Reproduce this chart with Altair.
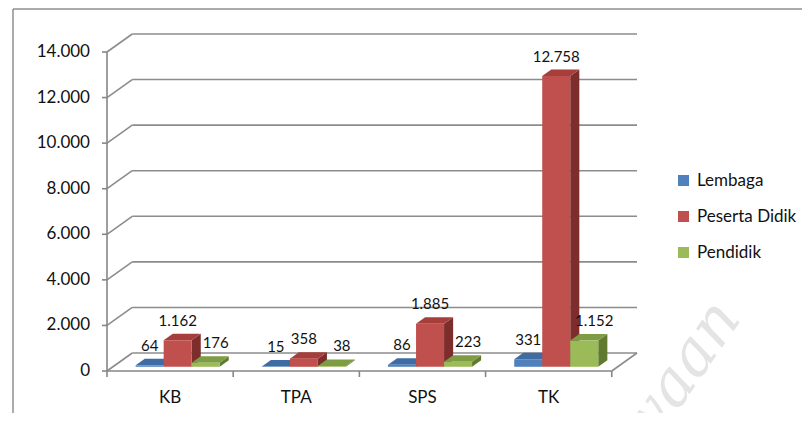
import altair as alt
import pandas as pd

# ---- data ----
categories = ["KB", "TPA", "SPS", "TK"]
series = ["Lembaga", "Peserta Didik", "Pendidik"]
lembaga = [64, 15, 86, 331]
peserta_didik = [1162, 358, 1885, 12758]
pendidik = [176, 38, 223, 1152]
y_ticks = [0, 2000, 4000, 6000, 8000, 10000, 12000, 14000]

values = [lembaga, peserta_didik, pendidik]

# ---- styling / 3D geometry ----
front_colors = ["#4F81BD", "#C0504D", "#9BBB59"]
top_colors = ["#3F6DA3", "#A63E3B", "#7E9C43"]
side_colors = ["#2F5482", "#7D2E2C", "#617A30"]
label_dx = [0, 0, 10]

DX, DY = 0.2, 790          # depth of the back wall (x units, value units)
BAR_W = 0.222              # bar width in category units
FX, FY = 0.06, 185         # bar front-plane offset
BX, BY = 0.072, 284        # bar depth
X_MAX = 4 + DX
Y_MAX = 14000 + DY
W, H = 530, 337
FONT = "Lato"
GRID = "#8C8C8C"

xs = alt.Scale(domain=[0, X_MAX], nice=False, zero=False)
ys = alt.Scale(domain=[0, Y_MAX], nice=False, zero=False)


def X(field):
    return alt.X(field, type="quantitative", scale=xs, axis=None, title=None)


def Y(field):
    return alt.Y(field, type="quantitative", scale=ys, axis=None, title=None)


def fmt(v):
    return f"{v:,}".replace(",", ".")


layers = []

# back-wall gridlines
back = pd.DataFrame({"x": [DX] * len(y_ticks), "x2": [X_MAX] * len(y_ticks),
                     "y": [v + DY for v in y_ticks]})
layers.append(alt.Chart(back).mark_rule(color=GRID, strokeWidth=1.6).encode(
    x=X("x"), x2="x2", y=Y("y")))

# side-wall diagonals + floor right edge
diag = pd.DataFrame({"x": [0] * len(y_ticks) + [4], "x2": [DX] * len(y_ticks) + [X_MAX],
                     "y": y_ticks + [0], "y2": [v + DY for v in y_ticks] + [DY]})
layers.append(alt.Chart(diag).mark_rule(color=GRID, strokeWidth=1.6).encode(
    x=X("x"), x2="x2", y=Y("y"), y2="y2"))

# axis lines
axl = pd.DataFrame({"x": [0, 0], "x2": [4, 0], "y": [0, 0], "y2": [0, 14000]})
layers.append(alt.Chart(axl).mark_rule(color="#868686", strokeWidth=1.6).encode(
    x=X("x"), x2="x2", y=Y("y"), y2="y2"))

# y ticks and labels
yl = pd.DataFrame({"y": y_ticks, "t": [fmt(v) for v in y_ticks]})
layers.append(alt.Chart(yl).mark_rule(color="#868686", strokeWidth=1.6).encode(
    y=Y("y"), x=alt.value(-5), x2=alt.value(0)))
layers.append(alt.Chart(yl).mark_text(font=FONT, fontSize=17, color="#111111", align="right",
                                      baseline="middle", dx=-17).encode(
    y=Y("y"), x=alt.value(0), text="t:N"))

# x ticks
xt = pd.DataFrame({"x": [0, 1, 2, 3, 4]})
layers.append(alt.Chart(xt).mark_rule(color="#868686", strokeWidth=1.6).encode(
    x=X("x"), y=alt.value(H), y2=alt.value(H + 6)))

# category labels
cl = pd.DataFrame({"cat": categories, "x": [i + 0.5 for i in range(len(categories))], "y": [0] * 4})
layers.append(alt.Chart(cl).mark_text(font=FONT, fontSize=17, color="#111111", dy=27,
                                      baseline="middle").encode(
    x=X("x"), y=Y("y"), text="cat:N"))

# bars: painter's order series by series
for j, s in enumerate(series):
    side_rows, top_rows, front_rows, lab_rows = [], [], [], []
    for i, c in enumerate(categories):
        v = values[j][i]
        xl = i + 0.5 - 1.5 * BAR_W + j * BAR_W + FX
        xr = xl + BAR_W
        y0, y1 = FY, FY + v
        side_rows += [{"cat": c, "x": xr, "y": y0, "y2": y1},
                      {"cat": c, "x": xr + BX, "y": y0 + BY, "y2": y1 + BY}]
        top_rows += [{"cat": c, "y": y1, "x": xl, "x2": xr},
                     {"cat": c, "y": y1 + BY, "x": xl + BX, "x2": xr + BX}]
        front_rows.append({"cat": c, "series": s, "x": xl, "x2": xr, "y": y0, "y2": y1})
        lab_rows.append({"x": (xl + xr) / 2, "y": y1 + BY, "t": fmt(v)})
    layers.append(alt.Chart(pd.DataFrame(side_rows)).mark_area(
        orient="vertical", color=side_colors[j]).encode(
        x=X("x"), y=Y("y"), y2="y2", detail="cat:N"))
    layers.append(alt.Chart(pd.DataFrame(top_rows)).mark_area(
        orient="horizontal", color=top_colors[j]).encode(
        y=Y("y"), x=X("x"), x2="x2", detail="cat:N"))
    layers.append(alt.Chart(pd.DataFrame(front_rows)).mark_rect().encode(
        x=X("x"), x2="x2", y=Y("y"), y2="y2",
        color=alt.Color("series:N", scale=alt.Scale(domain=series, range=front_colors),
                        legend=alt.Legend(orient="none", legendX=568, legendY=138,
                                          title=None, symbolType="square", symbolSize=121,
                                          symbolStrokeWidth=0, labelFont=FONT,
                                          labelFontSize=17, labelColor="#111111",
                                          rowPadding=18, padding=0, labelOffset=5))))
    layers.append(alt.Chart(pd.DataFrame(lab_rows)).mark_text(
        font=FONT, fontSize=15, color="#111111", baseline="bottom", dy=-5, dx=label_dx[j]).encode(
        x=X("x"), y=Y("y"), text="t:N"))

# watermark fragment
wm = pd.DataFrame({"t": ["waan"]})
layers.append(alt.Chart(wm).mark_text(font="DejaVu Serif", fontStyle="italic", fontSize=62,
                                      color="#E4E4E4", angle=305).encode(
    x=alt.value(572), y=alt.value(342), text="t:N"))

# outer chart border
bd = pd.DataFrame({"a": [0]})
layers.append(alt.Chart(bd).mark_rule(color="#8F8F8F", strokeWidth=1.5).encode(
    x=alt.value(-94), x2=alt.value(700), y=alt.value(-25)))
layers.append(alt.Chart(bd).mark_rule(color="#8F8F8F", strokeWidth=1.5).encode(
    x=alt.value(-94), y=alt.value(-25), y2=alt.value(H + 45)))

chart = alt.layer(*layers).properties(
    width=W, height=H,
    autosize=alt.AutoSizeParams(type="none"),
    padding={"left": 99, "top": 26, "right": 165, "bottom": 42},
).configure_view(stroke=None)

chart.save("out.html", embed_options={"renderer": "svg", "actions": False})
